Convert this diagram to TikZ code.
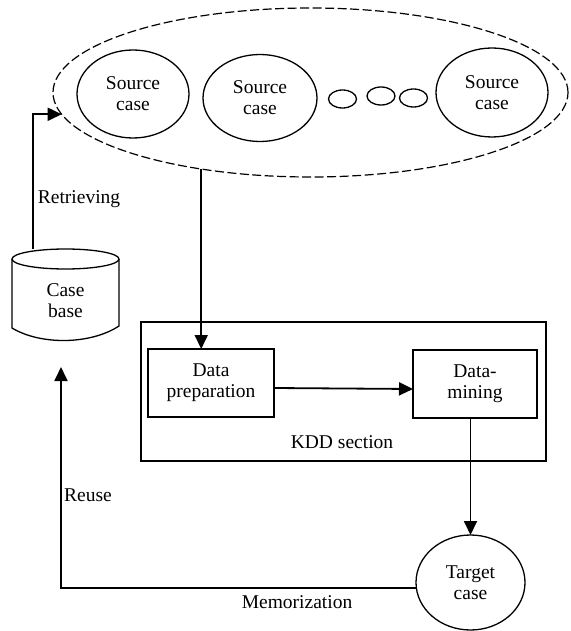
\documentclass[tikz,border=0pt]{standalone}
\usepackage{fontspec}
\setmainfont{Liberation Serif}
\usetikzlibrary{shapes.geometric,arrows.meta}
\begin{document}
\begin{tikzpicture}[x=1pt,y=-1pt,
  txt/.style={font=\fontsize{19.5}{21}\selectfont},
  lbl/.style={txt, inner sep=0pt},
  outerell/.style={ellipse, draw, line width=1.2pt, dash pattern=on 9pt off 3.5pt, inner sep=0pt, outer sep=0pt},
  src/.style={ellipse, draw, line width=1.3pt, inner sep=0pt, outer sep=0pt, align=center, txt},
  dotell/.style={ellipse, draw, line width=1.3pt, inner sep=0pt, outer sep=0pt, minimum width=28pt, minimum height=18pt},
  box/.style={rectangle, draw, line width=1.9pt, inner sep=0pt, outer sep=0pt, align=center, txt},
  arr/.style={line width=1.8pt, -{Triangle[length=14pt,width=13pt]}},
  cyl/.style={line width=1.3pt}]
\useasboundingbox (0,0) rectangle (570,631);

% source cases
\node[outerell, minimum width=515pt, minimum height=169pt] (outer) at (310.5,92.5) {};
\node[src, minimum width=112pt, minimum height=88pt] (s1) at (133,94) {Source\\case};
\node[src, minimum width=114pt, minimum height=87pt] (s2) at (260,98) {Source\\case};
\node[dotell] (d1) at (342.5,99) {};
\node[dotell] (d2) at (381,96) {};
\node[dotell] (d3) at (413.5,98) {};
\node[src, minimum width=112pt, minimum height=89pt] (s3) at (492,92.5) {Source\\case};

% case base cylinder
\draw[cyl] (12,259) -- (12,328) .. controls (40,345) and (90,345) .. (119,326) -- (119,259);
\draw[cyl] (65.5,259) ellipse [x radius=53.5pt, y radius=10pt];
\node[lbl, align=center] (cb) at (65.5,301) {Case\\base};
\coordinate (cbtop) at (33,249);

% KDD section
\node[box, minimum width=405pt, minimum height=139pt] (kdd) at (343.5,391.5) {};
\node[box, minimum width=126pt, minimum height=68pt] (dp) at (211,383) {Data\\preparation};
\node[box, minimum width=124pt, minimum height=68pt] (dm) at (475,384) {Data-\\mining};
\node[lbl, anchor=base] (lk) at (342,448) {KDD section};

% target
\node[src, minimum width=109pt, minimum height=95pt] (tc) at (470.5,582.5) {Target\\case};
\coordinate (ru) at (61,367);

% connectors
\draw[arr] (cbtop) |- (outer.185.7);
\draw[arr] (outer.215.5) -- (outer.215.5 |- dp.north);
\draw[arr] ([yshift=-5pt]dp.east) -- ([yshift=-5pt]dm.west);
\draw[arr] (tc.north |- dm.south) -- (tc.north);
\draw[arr] (tc.186.6) -| (ru);

% labels
\node[lbl, anchor=base] (lr) at (79,203) {Retrieving};
\node[lbl, anchor=base west] (lu) at (64,501) {Reuse};
\node[lbl, anchor=base] (lm) at (297,608) {Memorization};
\end{tikzpicture}
\end{document}
